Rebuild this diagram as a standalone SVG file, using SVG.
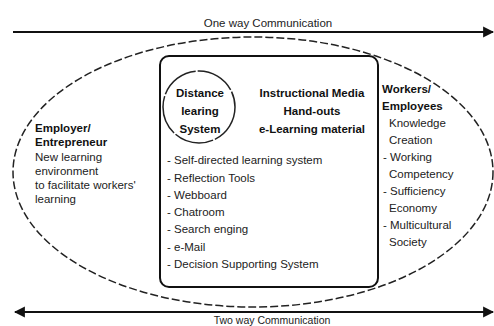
<svg xmlns="http://www.w3.org/2000/svg" width="494" height="326" viewBox="0 0 494 326">
<style>
text{font-family:"Liberation Sans",Arial,sans-serif;fill:#222;font-size:11.5px}
.b{font-weight:bold;fill:#111}
.c{text-anchor:middle}
.ln{stroke:#111;stroke-width:2;fill:none}
</style>
<defs>
<marker id="ah" viewBox="0 0 10 10" refX="9" refY="5" markerWidth="11" markerHeight="15" markerUnits="userSpaceOnUse" orient="auto-start-reverse">
<path d="M0,0 L10,5 L0,10 Z" fill="#111"/>
</marker>
</defs>
<rect width="494" height="326" fill="#fff"/>
<g id="connectors">
<line class="ln" x1="13" y1="32" x2="493" y2="32" marker-end="url(#ah)"/>
<line class="ln" x1="15" y1="312" x2="493" y2="312" marker-start="url(#ah)" marker-end="url(#ah)"/>
</g>
<text class="c" x="268" y="27">One way Communication</text>
<text class="c" x="272" y="324" style="font-size:10.5px">Two way Communication</text>
<g id="ellipse">
<ellipse cx="253" cy="172" rx="240" ry="135" fill="none" stroke="#222" stroke-width="1.5" stroke-dasharray="8,3"/>
</g>
<g id="box">
<rect x="160" y="56" width="218" height="231" rx="9" class="ln"/>
</g>
<g id="distance">
<circle cx="199" cy="107" r="36" fill="none" stroke="#222" stroke-width="1.5" stroke-dasharray="40,2"/>
<text class="b c" x="200" y="97">Distance</text>
<text class="b c" x="200" y="115">learing</text>
<text class="b c" x="200" y="133">System</text>
</g>
<g id="media">
<text class="b c" x="312" y="97">Instructional Media</text>
<text class="b c" x="312" y="115">Hand-outs</text>
<text class="b c" x="312" y="133">e-Learning material</text>
</g>
<g id="tools">
<text x="167" y="164">- Self-directed  learning system</text>
<text x="167" y="182">- Reflection Tools</text>
<text x="167" y="199">- Webboard</text>
<text x="167" y="216">- Chatroom</text>
<text x="167" y="233">- Search enging</text>
<text x="167" y="251">- e-Mail</text>
<text x="167" y="268">- Decision Supporting System</text>
</g>
<g id="employer">
<text class="b" x="35" y="132">Employer/</text>
<text class="b" x="35" y="146">Entrepreneur</text>
<text x="35" y="161">New learning</text>
<text x="35" y="175">environment</text>
<text x="35" y="189">to facilitate workers'</text>
<text x="35" y="203">learning</text>
</g>
<g id="workers">
<text class="b" x="382" y="93">Workers/</text>
<text class="b" x="382" y="110">Employees</text>
<text x="389" y="127">Knowledge</text>
<text x="389" y="144">Creation</text>
<text x="383" y="161">- Working</text>
<text x="389" y="178">Competency</text>
<text x="383" y="195">- Sufficiency</text>
<text x="389" y="212">Economy</text>
<text x="383" y="229">- Multicultural</text>
<text x="389" y="246">Society</text>
</g>
</svg>
